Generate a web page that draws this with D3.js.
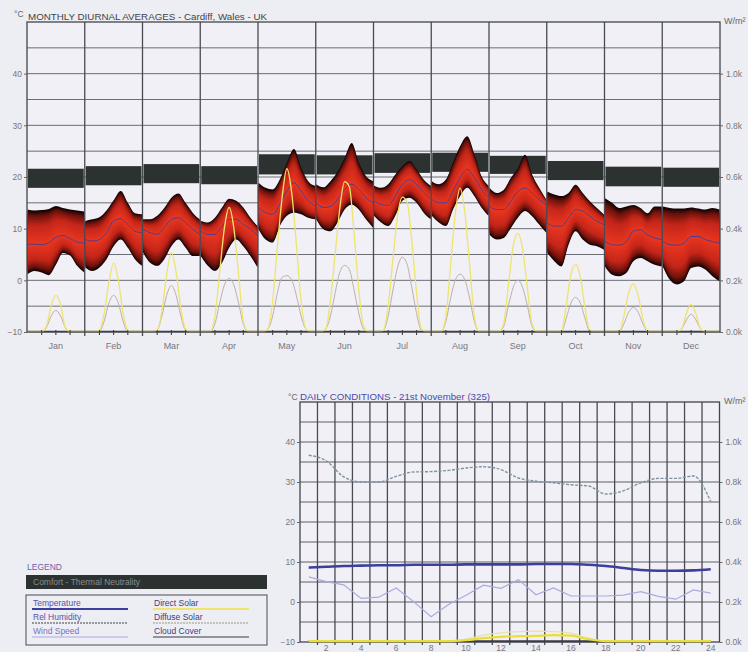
<!DOCTYPE html>
<html><head><meta charset="utf-8">
<script src="https://cdn.jsdelivr.net/npm/d3@7"></script>
<style>
html,body{margin:0;padding:0;background:#ededf4;}
svg{display:block;font-family:"Liberation Sans",Arial,sans-serif;}
</style></head><body>
<svg id="c" width="748" height="652"></svg>
<script>
// ---------- DATA ----------
const months = ["Jan","Feb","Mar","Apr","May","Jun","Jul","Aug","Sep","Oct","Nov","Dec"];
const hours3 = [0,3,6,9,12,15,18,21,24];
const hours2 = [0,2,4,6,8,10,12,14,16,18,20,22,24];
const tempTicks = [-10,0,10,20,30,40];
const solarTicks = [0,200,400,600,800,1000];
const dayHourLabels = [2,4,6,8,10,12,14,16,18,20,22,24];

const comfortLow  = [17.9,18.4,18.8,18.6,20.5,20.5,20.8,21.0,20.6,19.4,18.2,18.1];
const comfortHigh = [21.6,22.1,22.5,22.1,24.4,24.2,24.6,24.7,24.1,23.1,22.0,21.8];

const tempMax = [
 [13.7,13.5,13.6,13.8,14.4,14.0,13.7,13.5,13.3],
 [11.5,11.8,12.2,13.5,15.5,17.3,15.0,13.0,12.8],
 [11.8,11.8,12.5,14.0,16.0,16.8,15.0,13.1,11.8],
 [11.5,11.2,12.1,14.1,15.8,15.4,14.1,12.1,10.5],
 [18.9,17.9,17.6,19.5,22.8,25.4,21.9,19.2,18.3],
 [18.6,18.0,19.2,21.0,23.7,26.6,22.8,20.2,19.2],
 [18.3,17.9,18.6,20.5,22.1,23.1,21.5,19.5,18.3],
 [19.2,18.6,19.5,22.8,26.0,27.9,24.5,20.2,18.3],
 [17.9,16.9,17.5,19.8,21.7,24.3,20.5,17.9,15.6],
 [17.2,16.6,16.3,16.9,18.5,16.9,15.3,14.0,12.7],
 [15.9,15.0,14.0,14.3,14.6,14.0,13.0,14.3,14.3],
 [14.3,14.0,13.9,13.9,14.1,13.9,13.7,14.0,13.7]
];
const tempMin = [
 [1.2,1.8,1.5,1.0,3.0,5.3,4.8,2.8,1.5],
 [2.5,1.8,2.5,4.1,6.6,7.9,6.3,4.1,2.8],
 [5.4,3.4,2.8,4.1,6.6,7.9,6.3,4.7,4.7],
 [4.7,2.8,1.8,3.4,6.3,7.9,6.6,4.7,2.5],
 [9.9,7.9,7.3,10.5,12.5,13.1,12.8,12.1,11.8],
 [11.8,9.9,9.5,11.2,13.7,14.7,13.7,11.8,10.2],
 [12.5,11.2,10.5,12.5,15.4,16.0,15.0,13.1,11.8],
 [12.5,11.2,10.5,13.7,16.3,17.9,16.3,14.1,12.5],
 [8.8,7.9,8.2,10.1,12.1,13.4,12.4,10.8,9.2],
 [5.3,3.7,2.7,6.9,9.5,7.9,6.9,6.6,5.9],
 [2.7,1.1,0.8,1.4,3.7,4.3,3.7,3.0,2.7],
 [2.7,0.1,-0.8,-0.2,2.4,2.7,2.1,0.8,-0.2]
];
const tempMean = [
 [7.0,7.0,6.9,7.3,8.3,8.7,8.1,7.4,7.2],
 [7.9,7.6,7.9,9.2,11.5,11.9,10.8,9.5,9.2],
 [9.9,9.2,8.9,10.2,11.8,12.1,11.2,9.9,8.9],
 [9.5,8.9,8.9,10.5,11.8,11.8,10.8,9.9,8.6],
 [14.1,13.1,12.8,14.7,17.3,18.9,17.3,15.4,14.4],
 [15.0,14.1,14.3,15.7,17.6,18.6,17.6,16.0,15.0],
 [15.4,14.7,14.5,16.3,18.6,19.5,18.6,17.0,15.7],
 [15.7,15.0,15.0,17.3,19.9,21.5,19.9,17.6,16.0],
 [14.3,13.7,13.7,15.3,17.2,17.9,16.9,15.6,14.6],
 [11.1,10.5,10.5,12.1,13.7,13.4,12.4,11.4,10.8],
 [7.5,6.9,6.8,7.5,9.5,9.8,8.8,8.2,7.9],
 [7.5,6.9,6.8,7.2,8.5,8.5,7.9,7.5,7.2]
];
const directSolar = [
 [0,0,0,0,20,100,140,105,15,0,0,0,0],
 [0,0,0,5,70,190,265,200,70,5,0,0,0],
 [0,0,0,5,80,220,305,230,90,10,0,0,0],
 [0,0,0,60,230,400,480,400,220,40,0,0,0],
 [0,0,10,120,330,520,630,540,340,120,10,0,0],
 [0,0,10,120,300,480,580,560,380,160,20,0,0],
 [0,0,5,100,280,450,520,500,350,150,10,0,0],
 [0,0,0,60,260,460,555,460,260,60,0,0,0],
 [0,0,0,30,180,330,380,320,170,30,0,0,0],
 [0,0,0,0,100,220,260,210,90,5,0,0,0],
 [0,0,0,0,60,150,184,140,50,0,0,0,0],
 [0,0,0,0,10,70,106,70,10,0,0,0,0]
];
const diffuseSolar = [
 [0,0,0,0,15,60,82,60,15,0,0,0,0],
 [0,0,0,0,40,110,140,110,40,0,0,0,0],
 [0,0,0,5,60,140,178,140,60,5,0,0,0],
 [0,0,0,30,110,180,206,180,110,30,0,0,0],
 [0,0,10,60,150,210,216,200,140,60,10,0,0],
 [0,0,10,60,150,230,256,240,160,70,10,0,0],
 [0,0,5,60,160,250,288,260,170,70,5,0,0],
 [0,0,0,40,130,200,222,200,130,40,0,0,0],
 [0,0,0,20,100,170,199,170,100,20,0,0,0],
 [0,0,0,0,50,110,132,110,50,0,0,0,0],
 [0,0,0,0,30,75,93,75,30,0,0,0,0],
 [0,0,0,0,10,45,67,45,10,0,0,0,0]
];
const monthCloud = [0,0,0,0,0,0,0,0,0,0,0,0];

// daily conditions - 21st November (hourly, hours 1..24)
const dailyTemp = [8.6,8.8,9.0,9.1,9.2,9.2,9.3,9.3,9.3,9.4,9.4,9.4,9.4,9.5,9.5,9.5,9.3,9.0,8.5,8.0,7.8,7.8,7.9,8.2];
const dailyHumidity = [36.7,35.3,31.3,30.0,30.0,31.4,32.5,32.6,32.9,33.5,33.8,33.1,31.0,30.2,29.8,29.3,29.0,27.0,27.8,29.8,30.9,30.9,31.5,25.1];
const dailyWind = [6.3,5.1,4.3,0.9,1.2,3.5,0.1,-3.7,-0.6,1.7,4.2,3.4,5.6,1.8,3.5,1.5,1.5,1.5,1.7,2.6,1.4,0.7,3.0,2.2];
const dailyDirect = [0,0,0,0,0,0,0,0,0,5,15,22,25,27,30,28,10,0,0,0,0,0,0,0];
const dailyDiffuse = [0,0,0,0,0,0,0,0,0,10,30,42,48,50,48,40,15,0,0,0,0,0,0,0];
const dailyCloud = [0,0,0,0,0,0,0,0,0,0,0,0,0,0,0,0,0,0,0,0,0,0,0,0];

(function(){
// ---------- STYLE ----------
const C = {
  grid:"#5e5e66", label:"#77777f", comfort:"#2b322f",
  mean:"#4a3c92", direct:"#eee46e", diffuse:"#bfb0a6", cloud:"#3a3a48",
  temp:"#3c3f9c", hum:"#7f93a3", wind:"#a9aae2"
};
const svg = d3.select("#c");
svg.append("rect").attr("width",748).attr("height",652).attr("fill","#ededf4");

// ---------- TOP CHART ----------
const tp = {l:27, r:720, t:22, b:332};
const yT = d3.scaleLinear().domain([-10,50]).range([tp.b, tp.t]);
const wT = d3.scaleLinear().domain([0,1200]).range([tp.b, tp.t]);
const xM = d3.scaleBand().domain(months).range([tp.l, tp.r]);
const gT = svg.append("g");

gT.append("rect").attr("x",tp.l).attr("y",tp.t).attr("width",tp.r-tp.l).attr("height",tp.b-tp.t).attr("fill","#f0f0f6");
gT.selectAll("line.h").data(d3.range(-5,50,5)).join("line")
  .attr("x1",tp.l).attr("x2",tp.r).attr("y1",d=>yT(d)).attr("y2",d=>yT(d))
  .attr("stroke",C.grid).attr("stroke-width",0.9);

const bandColor = d3.scaleLinear().domain([0,0.15,0.45,1]).range(["#1a0506","#70130a","#c4251a","#e8361f"]);
const layers = 16;

months.forEach((m,i)=>{
  const x0 = xM(m), bw = xM.bandwidth();
  const xh = d3.scaleLinear().domain([0,24]).range([x0+0.5, x0+bw-0.5]);
  const g = gT.append("g");
  g.append("rect").attr("x",x0+1).attr("width",bw-2)
    .attr("y",yT(comfortHigh[i])).attr("height",yT(comfortLow[i])-yT(comfortHigh[i]))
    .attr("fill",C.comfort);
  for(let k=0;k<layers;k++){
    const f = 1 - k/layers;
    const area = d3.area()
      .x((d,j)=>xh(hours3[j]))
      .y0((d,j)=>yT(tempMean[i][j] - (tempMean[i][j]-tempMin[i][j])*f))
      .y1((d,j)=>yT(tempMean[i][j] + (tempMax[i][j]-tempMean[i][j])*f))
      .curve(d3.curveMonotoneX);
    g.append("path").datum(hours3).attr("d",area).attr("fill",bandColor(k/(layers-1)));
  }
  g.append("path").datum(tempMean[i])
    .attr("d",d3.line().x((d,j)=>xh(hours3[j])).y(d=>yT(d)).curve(d3.curveMonotoneX))
    .attr("fill","none").attr("stroke",C.mean).attr("stroke-width",1);
  g.append("line").attr("x1",xh(0)).attr("x2",xh(24)).attr("y1",wT(monthCloud[i])-0.5).attr("y2",wT(monthCloud[i])-0.5)
    .attr("stroke",C.cloud).attr("stroke-width",1.6);
  const sl = d3.line().x((d,j)=>xh(hours2[j])).y(d=>wT(d)-0.5).curve(d3.curveMonotoneX);
  g.append("path").datum(diffuseSolar[i]).attr("d",sl).attr("fill","none").attr("stroke",C.diffuse).attr("stroke-width",1);
  g.append("path").datum(directSolar[i]).attr("d",sl).attr("fill","none").attr("stroke",C.direct).attr("stroke-width",1.3);
  g.selectAll("line.t").data([6,12,18]).join("line")
    .attr("x1",d=>xh(d)).attr("x2",d=>xh(d)).attr("y1",tp.b-2).attr("y2",tp.b+3)
    .attr("stroke","#333").attr("stroke-width",1);
  g.append("text").attr("x",x0+bw/2).attr("y",349).attr("text-anchor","middle")
    .attr("font-size",9).attr("fill",C.label).text(m);
});
gT.selectAll("line.v").data(months.slice(1)).join("line")
  .attr("x1",d=>xM(d)).attr("x2",d=>xM(d)).attr("y1",tp.t).attr("y2",tp.b+4)
  .attr("stroke","#4a4a52").attr("stroke-width",1.3);
gT.append("rect").attr("x",tp.l).attr("y",tp.t).attr("width",tp.r-tp.l).attr("height",tp.b-tp.t)
  .attr("fill","none").attr("stroke","#44444c").attr("stroke-width",1.3);

const axL = gT.append("g").attr("transform",`translate(${tp.l},0)`)
  .call(d3.axisLeft(yT).tickValues(tempTicks).tickSize(3).tickPadding(2));
const axR = gT.append("g").attr("transform",`translate(${tp.r},0)`)
  .call(d3.axisRight(wT).tickValues(solarTicks).tickSize(3).tickPadding(3).tickFormat(d=>(d/1000).toFixed(1)+"k"));
[axL,axR].forEach(a=>{a.select(".domain").remove();
  a.selectAll("text").attr("font-size",8.5).attr("fill",C.label).attr("font-family","Liberation Sans, Arial, sans-serif");
  a.selectAll("line").attr("stroke","#666");});

svg.append("text").attr("x",14).attr("y",17).attr("font-size",8.5).attr("fill","#666").text("°C");
svg.append("text").attr("x",28).attr("y",19.5).attr("font-size",9.5).attr("fill","#444")
  .attr("textLength",239).attr("lengthAdjust","spacingAndGlyphs")
  .text("MONTHLY DIURNAL AVERAGES - Cardiff, Wales - UK");
svg.append("text").attr("x",724).attr("y",24).attr("font-size",9).attr("fill","#666").text("W/m²");

// ---------- BOTTOM CHART ----------
const bt = {l:300, r:719.5, t:402, b:642};
const yB = d3.scaleLinear().domain([-10,50]).range([bt.b, bt.t]);
const wB = d3.scaleLinear().domain([0,1200]).range([bt.b, bt.t]);
const xB = d3.scaleLinear().domain([0,24]).range([bt.l, bt.r]);
const gB = svg.append("g");
gB.append("rect").attr("x",bt.l).attr("y",bt.t).attr("width",bt.r-bt.l).attr("height",bt.b-bt.t).attr("fill","#f0f0f6");
gB.selectAll("line.h").data(d3.range(-5,50,5)).join("line")
  .attr("x1",bt.l).attr("x2",bt.r).attr("y1",d=>yB(d)).attr("y2",d=>yB(d))
  .attr("stroke",C.grid).attr("stroke-width",1);
gB.selectAll("line.v").data(d3.range(1,24)).join("line")
  .attr("x1",d=>xB(d)).attr("x2",d=>xB(d)).attr("y1",bt.t).attr("y2",bt.b+3)
  .attr("stroke","#4a4a52").attr("stroke-width",1.3);
gB.append("rect").attr("x",bt.l).attr("y",bt.t).attr("width",bt.r-bt.l).attr("height",bt.b-bt.t)
  .attr("fill","none").attr("stroke","#44444c").attr("stroke-width",1.3);

const hx = (d,j)=>xB(j+0.5);
const lineB = d3.line().x(hx).y(d=>yB(d)).curve(d3.curveLinear);
const lineW = d3.line().x(hx).y(d=>wB(d)-0.8).curve(d3.curveMonotoneX);
gB.append("path").datum(dailyCloud).attr("d",lineW).attr("fill","none").attr("stroke",C.cloud).attr("stroke-width",2);
gB.append("path").datum(dailyDiffuse).attr("d",lineW).attr("fill","none").attr("stroke","#e4e4a8").attr("stroke-width",1.3);
gB.append("path").datum(dailyDirect).attr("d",lineW).attr("fill","none").attr("stroke","#eade3a").attr("stroke-width",2.2);
gB.append("path").datum(dailyWind).attr("d",lineB).attr("fill","none").attr("stroke",C.wind).attr("stroke-width",1.2);
gB.append("path").datum(dailyHumidity).attr("d",d3.line().x(hx).y(d=>yB(d)).curve(d3.curveMonotoneX))
  .attr("fill","none").attr("stroke",C.hum).attr("stroke-width",1.4).attr("stroke-dasharray","3,1.5");
gB.append("path").datum(dailyTemp).attr("d",d3.line().x(hx).y(d=>yB(d)).curve(d3.curveMonotoneX))
  .attr("fill","none").attr("stroke",C.temp).attr("stroke-width",2.6);

const bL = gB.append("g").attr("transform",`translate(${bt.l},0)`)
  .call(d3.axisLeft(yB).tickValues(tempTicks).tickSize(3).tickPadding(2));
const bR = gB.append("g").attr("transform",`translate(${bt.r},0)`)
  .call(d3.axisRight(wB).tickValues(solarTicks).tickSize(3).tickPadding(3).tickFormat(d=>(d/1000).toFixed(1)+"k"));
[bL,bR].forEach(a=>{a.select(".domain").remove();
  a.selectAll("text").attr("font-size",8.5).attr("fill",C.label).attr("font-family","Liberation Sans, Arial, sans-serif");
  a.selectAll("line").attr("stroke","#666");});
gB.selectAll("text.hl").data(dayHourLabels).join("text")
  .attr("x",d=>xB(d-0.5)).attr("y",651).attr("text-anchor","middle")
  .attr("font-size",8.5).attr("fill",C.label).text(d=>d);

svg.append("text").attr("x",288).attr("y",400).attr("font-size",8.5).attr("fill","#666").text("°C");
svg.append("text").attr("x",300).attr("y",399.5).attr("font-size",9.5).attr("fill","#4b4ba6")
  .attr("textLength",190).attr("lengthAdjust","spacingAndGlyphs")
  .text("DAILY CONDITIONS - 21st November (325)");
svg.append("text").attr("x",724).attr("y",404).attr("font-size",9).attr("fill","#666").text("W/m²");

// ---------- LEGEND ----------
const lg = svg.append("g");
lg.append("text").attr("x",27).attr("y",570).attr("font-size",8.5).attr("fill","#6d5fa8").text("LEGEND");
lg.append("rect").attr("x",26).attr("y",575).attr("width",241).attr("height",14).attr("fill",C.comfort);
lg.append("text").attr("x",33).attr("y",585).attr("font-size",8.5).attr("fill","#8c8c90").text("Comfort - Thermal Neutrality");
lg.append("rect").attr("x",26).attr("y",595).attr("width",241).attr("height",50).attr("fill","none").attr("stroke","#4a4a52").attr("stroke-width",1);
const items = [
  {t:"Temperature", x:33, y:606, c:"#5a52a8", lc:C.temp, lw:2.2, dash:null},
  {t:"Rel Humidity", x:33, y:620, c:"#5a52a8", lc:"#404048", lw:1, dash:"2,1"},
  {t:"Wind Speed", x:33, y:634, c:"#7a70c0", lc:C.wind, lw:1.2, dash:null},
  {t:"Direct Solar", x:154, y:606, c:"#3e3e80", lc:C.direct, lw:2, dash:null},
  {t:"Diffuse Solar", x:154, y:620, c:"#3e3e80", lc:"#9a9a80", lw:1, dash:"2,1"},
  {t:"Cloud Cover", x:154, y:634, c:"#3e3e80", lc:"#3a3a48", lw:1.2, dash:null}
];
items.forEach(it=>{
  lg.append("text").attr("x",it.x).attr("y",it.y).attr("font-size",8.5).attr("fill",it.c).text(it.t);
  lg.append("line").attr("x1",it.x-1).attr("x2",it.x+95).attr("y1",it.y+3).attr("y2",it.y+3)
    .attr("stroke",it.lc).attr("stroke-width",it.lw).attr("stroke-dasharray",it.dash);
});
})();
</script>
</body></html>
